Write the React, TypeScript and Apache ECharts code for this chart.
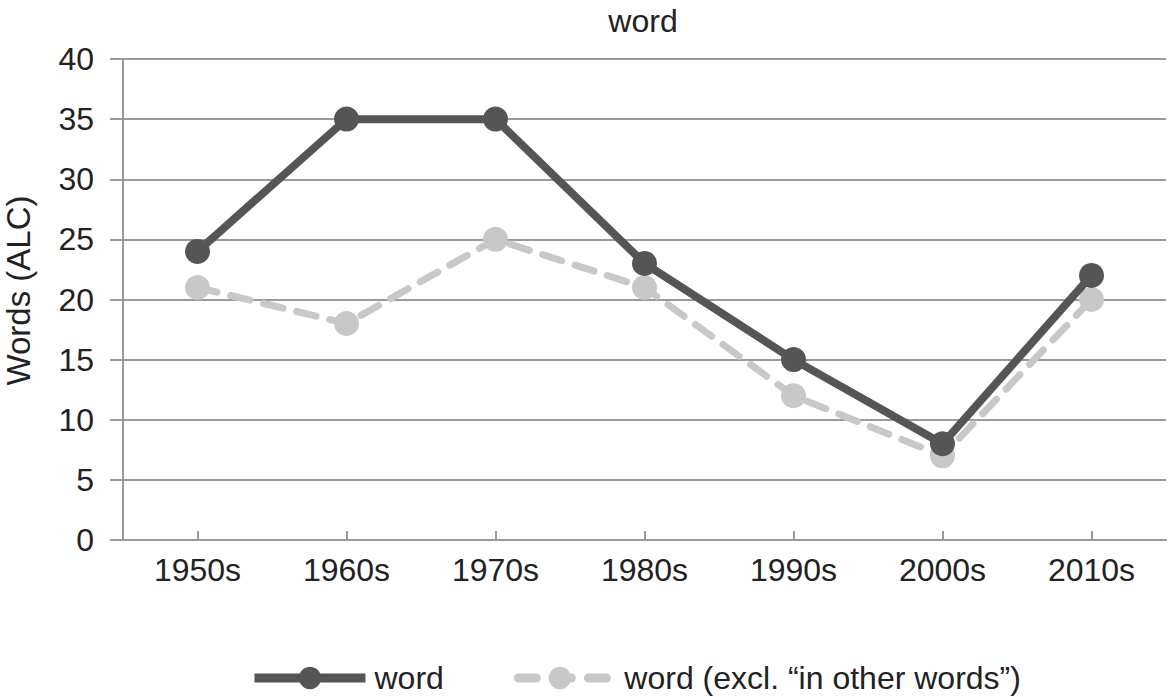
import { useEffect, useRef } from 'react'
import * as echarts from 'echarts'

const decades = ['1950s', '1960s', '1970s', '1980s', '1990s', '2000s', '2010s']
const wordValues = [24, 35, 35, 23, 15, 8, 22]
const wordExclValues = [21, 18, 25, 21, 12, 7, 20]
const seriesNames = ['word', 'word (excl. \u201cin other words\u201d)']

const FONT = "'Liberation Sans', Arial, Helvetica, sans-serif"
const TEXT = '#222'
const AXIS = '#9a9a9a'
const DARK = '#555555'
const LIGHT = '#c8c8c8'

export default function App() {
  const ref = useRef<HTMLDivElement>(null)

  useEffect(() => {
    if (!ref.current) return
    const chart = echarts.init(ref.current, undefined, { renderer: 'svg' })

    const option: echarts.EChartsOption = {
      animation: false,
      backgroundColor: '#fff',
      textStyle: { fontFamily: FONT },
      title: {
        text: 'word',
        left: 638,
        textAlign: 'center',
        top: 0,
        textStyle: { fontSize: 32, fontWeight: 'normal', color: TEXT, fontFamily: FONT },
      },
      // fixed plot box; don't let the axis name push it inward
      grid: { left: 123, right: 3, top: 59, bottom: 157, outerBoundsMode: 'none' } as any,
      legend: {
        top: 662,
        left: 250,
        padding: 0,
        itemWidth: 111,
        itemHeight: 28,
        itemGap: 56,
        textStyle: { fontSize: 32, color: TEXT, fontFamily: FONT, padding: [0, 0, 0, 4] },
        data: [
          { name: seriesNames[0], lineStyle: { width: 9, color: DARK } },
          { name: seriesNames[1], lineStyle: { width: 9, color: LIGHT, type: [18, 17], cap: 'round', dashOffset: -14 } },
        ],
      },
      xAxis: {
        type: 'category',
        data: decades,
        boundaryGap: true,
        axisLine: { lineStyle: { color: AXIS, width: 2 } },
        axisTick: { show: true, inside: true, alignWithLabel: true, length: 9, lineStyle: { color: AXIS, width: 2 } },
        axisLabel: { fontSize: 32, color: TEXT, margin: 14, fontFamily: FONT },
        splitLine: { show: false },
      },
      yAxis: {
        type: 'value',
        min: 0,
        max: 40,
        interval: 5,
        name: 'Words (ALC)',
        nameLocation: 'middle',
        nameGap: 88,
        nameTextStyle: { fontSize: 33, color: TEXT, fontFamily: FONT, padding: [0, 0, 0, 18] },
        axisLine: { show: true, lineStyle: { color: AXIS, width: 2 } },
        axisTick: { show: true, length: 13, lineStyle: { color: AXIS, width: 2 } },
        axisLabel: { fontSize: 32, color: TEXT, margin: 29, fontFamily: FONT },
        splitLine: { lineStyle: { color: AXIS, width: 2 } },
      },
      series: [
        {
          name: seriesNames[0],
          type: 'line',
          data: wordValues,
          symbol: 'circle',
          symbolSize: 25,
          z: 3,
          lineStyle: { color: DARK, width: 8 },
          itemStyle: { color: DARK },
        },
        {
          name: seriesNames[1],
          type: 'line',
          data: wordExclValues,
          symbol: 'circle',
          symbolSize: 25,
          z: 2,
          lineStyle: { color: LIGHT, width: 7, type: [20, 14], cap: 'round' },
          itemStyle: { color: LIGHT },
        },
      ],
    }

    chart.setOption(option)
    return () => chart.dispose()
  }, [])

  return (
    <div
      ref={ref}
      style={{ position: 'fixed', left: 0, top: 0, width: 1169, height: 697 }}
    />
  )
}
